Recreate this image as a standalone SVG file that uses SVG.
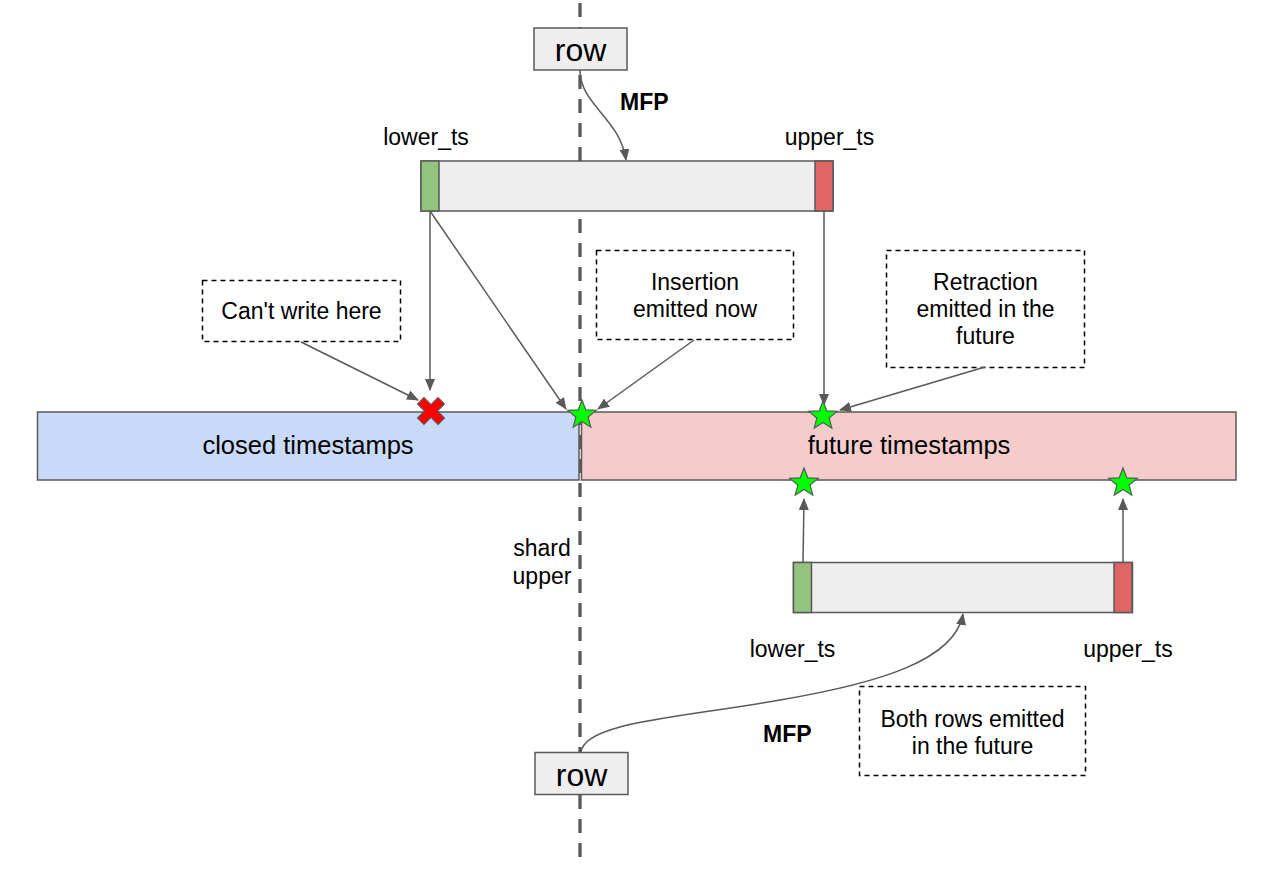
<svg xmlns="http://www.w3.org/2000/svg" xmlns:xlink="http://www.w3.org/1999/xlink" width="1271" height="878" viewBox="0 0 1271 878">
<style>
text { font-family: "Liberation Sans", Arial, sans-serif; fill: #000; }
.t23 { font-size: 23px; }
.mid { text-anchor: middle; }
.bold { font-weight: bold; }
.box { fill: #eeeeee; stroke: #595959; stroke-width: 1.5; }
.note { fill: #ffffff; stroke: #000000; stroke-width: 1.5; stroke-dasharray: 5 4; }
.conn { fill: none; stroke: #595959; stroke-width: 1.5; marker-end: url(#arrow); }
.green { fill: #93c47d; stroke: #595959; stroke-width: 1.5; }
.red { fill: #e06666; stroke: #595959; stroke-width: 1.5; }
.star { fill: #00ff00; stroke: #595959; stroke-width: 1.2; }
</style>
<defs>
<marker id="arrow" viewBox="0 0 12 10" refX="11" refY="5" markerWidth="12" markerHeight="10" markerUnits="userSpaceOnUse" orient="auto">
<path d="M0,0 L12,5 L0,10 z" fill="#595959"/>
</marker>
<polygon id="starShape" points="0,-15 3.78,-5.2 14.27,-4.64 6.12,1.99 8.82,12.14 0,6.43 -8.82,12.14 -6.12,1.99 -14.27,-4.64 -3.78,-5.2"/>
</defs>
<rect width="1271" height="878" fill="#ffffff"/>

<g id="shard-line">
<line x1="580" y1="3" x2="580" y2="857" stroke="#595959" stroke-width="3.3" stroke-dasharray="14 10"/>
</g>

<g id="closed-timestamps">
<rect x="37.5" y="412" width="541.5" height="68" fill="#c9daf8" stroke="#595959" stroke-width="1.5"/>
<text class="mid" x="308" y="454" font-size="25.5">closed timestamps</text>
</g>
<g id="future-timestamps">
<rect x="581.5" y="412" width="654.5" height="68" fill="#f4cccc" stroke="#595959" stroke-width="1.5"/>
<text class="mid" x="909" y="454" font-size="25.5">future timestamps</text>
</g>

<g id="row-top">
<rect class="box" x="534" y="28" width="93" height="42"/>
<text class="mid" x="580.5" y="61" font-size="32">row</text>
</g>

<g id="row-bottom">
<rect class="box" x="535" y="752.5" width="93" height="42"/>
<text class="mid" x="581.5" y="786" font-size="32">row</text>
</g>

<g id="interval-top">
<rect class="box" x="421" y="161" width="412" height="50"/>
<rect class="green" x="421" y="161" width="18" height="50"/>
<rect class="red" x="815" y="161" width="18" height="50"/>
</g>

<g id="interval-bottom">
<rect class="box" x="793.5" y="562.5" width="339" height="50"/>
<rect class="green" x="793.5" y="562.5" width="18" height="50"/>
<rect class="red" x="1114" y="562.5" width="18" height="50"/>
</g>

<g id="note-cant-write">
<rect class="note" x="202.5" y="280.5" width="198" height="61"/>
<text class="t23 mid" x="301.5" y="318.5">Can't write here</text>
</g>
<g id="note-insertion">
<rect class="note" x="596.5" y="250.5" width="197" height="89"/>
<text class="t23 mid" x="695" y="289.5">Insertion</text>
<text class="t23 mid" x="695" y="316.5">emitted now</text>
</g>
<g id="note-retraction">
<rect class="note" x="886.5" y="250.5" width="198" height="117"/>
<text class="t23 mid" x="985.5" y="289.5">Retraction</text>
<text class="t23 mid" x="985.5" y="316.5">emitted in the</text>
<text class="t23 mid" x="985.5" y="343.5">future</text>
</g>
<g id="note-both-rows">
<rect class="note" x="859.5" y="686.5" width="226" height="89"/>
<text class="t23 mid" x="972.5" y="726.5">Both rows emitted</text>
<text class="t23 mid" x="972.5" y="753.5">in the future</text>
</g>

<g id="labels">
<text class="t23 mid" x="426" y="145">lower_ts</text>
<text class="t23 mid" x="829.5" y="145">upper_ts</text>
<text class="t23 bold" x="620" y="110">MFP</text>
<text class="t23 mid" x="542" y="556">shard</text>
<text class="t23 mid" x="542" y="584">upper</text>
<text class="t23 mid" x="792.5" y="657">lower_ts</text>
<text class="t23 mid" x="1128" y="657">upper_ts</text>
<text class="t23 bold" x="763" y="742">MFP</text>
</g>

<g id="connectors">
<path class="conn" d="M580,70 C580,105 620,118 626,160"/>
<line class="conn" x1="430" y1="211" x2="430" y2="390"/>
<line class="conn" x1="430" y1="211" x2="566" y2="409"/>
<line class="conn" x1="824" y1="211" x2="824" y2="405"/>
<line class="conn" x1="301" y1="342" x2="418" y2="400"/>
<line class="conn" x1="694" y1="340" x2="598" y2="409"/>
<line class="conn" x1="985" y1="367" x2="840" y2="410"/>
<line class="conn" x1="803" y1="562" x2="804" y2="499"/>
<line class="conn" x1="1123" y1="562" x2="1123" y2="499"/>
<path class="conn" d="M581,752 C585,722 680,718 780,700 C880,683 955,660 963,614"/>
</g>

<g id="marks">
<polygon points="-4.5,-14.5 4.5,-14.5 4.5,-4.5 14.5,-4.5 14.5,4.5 4.5,4.5 4.5,14.5 -4.5,14.5 -4.5,4.5 -14.5,4.5 -14.5,-4.5 -4.5,-4.5" transform="translate(431,411) rotate(45)" fill="#ff0000" stroke="#595959" stroke-width="1.2"/>
<use xlink:href="#starShape" class="star" transform="translate(582,415)"/>
<use xlink:href="#starShape" class="star" transform="translate(823,416)"/>
<use xlink:href="#starShape" class="star" transform="translate(804,483)"/>
<use xlink:href="#starShape" class="star" transform="translate(1123,483)"/>
</g>
</svg>
